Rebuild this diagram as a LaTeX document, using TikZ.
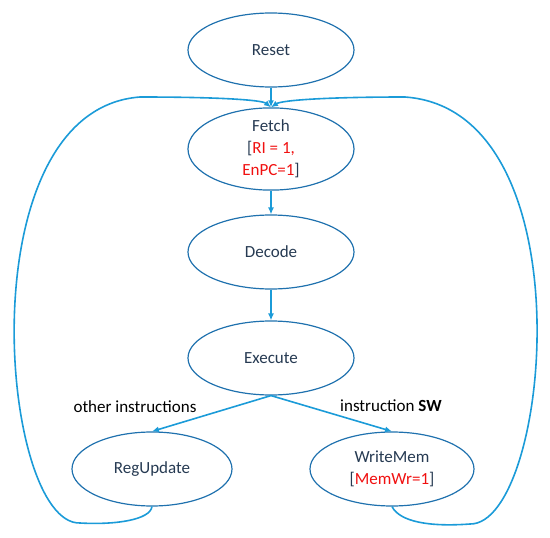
\documentclass[tikz,border=0pt]{standalone}
\usepackage{fontspec}
\setmainfont{Carlito}
\usetikzlibrary{arrows.meta,shapes.geometric}
\definecolor{Rim}{HTML}{1F71AE}
\definecolor{Flow}{HTML}{1B9BD8}
\definecolor{Ink}{HTML}{263A52}
\definecolor{Hot}{HTML}{F01010}

\begin{document}
\begin{tikzpicture}[x=1pt,y=-1pt,
  state/.style={ellipse,draw=Rim,line width=1.2pt,minimum width=166pt,minimum height=74pt,
    inner sep=0pt,align=center,font=\fontsize{17}{22}\selectfont,text=Ink},
  flow/.style={-{Latex[length=7pt,width=6pt]},line width=1.6pt,Flow},
  lbl/.style={font=\fontsize{17}{20}\selectfont,text=black}]
  \useasboundingbox (0,0) rectangle (550,538);
  \node[state] (reset) at (271,50) {Reset};
  \node[state] (fetch) at (271,149) {Fetch\\{}[\textcolor{Hot}{RI = 1,}\\\textcolor{Hot}{EnPC=1}]};
  \node[state] (decode) at (271,252) {Decode};
  \node[state] (exec) at (271,358) {Execute};
  \node[state,minimum width=160pt] (reg) at (152,469) {RegUpdate};
  \node[state,minimum width=164pt] (wmem) at (392,469) {WriteMem\\{}[\textcolor{Hot}{MemWr=1}]};
  \node[lbl] (other) at (135,407) {other instructions};
  \node[lbl] (sw) at (391,406) {instruction \textbf{SW}};
  \draw[flow] (reset.south)--(fetch.north);
  \draw[flow] (fetch.south)--(decode.north);
  \draw[flow] (decode.south)--(exec.north);
  \draw[flow] (exec.south)--(reg.north);
  \draw[flow] (exec.south)--(wmem.north);
  % loops back to fetch
  \draw[flow] (reg.south) .. controls (150,520) and (115,525) .. (80,523)
    .. controls (0,525) and (-35,110) .. (140,97)
    .. controls (220,97) and (262,100) .. (fetch.north);
  \draw[flow] (wmem.south) .. controls (400,522) and (430,527) .. (470,524)
    .. controls (550,525) and (590,110) .. (405,97)
    .. controls (330,97) and (282,100) .. (fetch.north);
\end{tikzpicture}
\end{document}
